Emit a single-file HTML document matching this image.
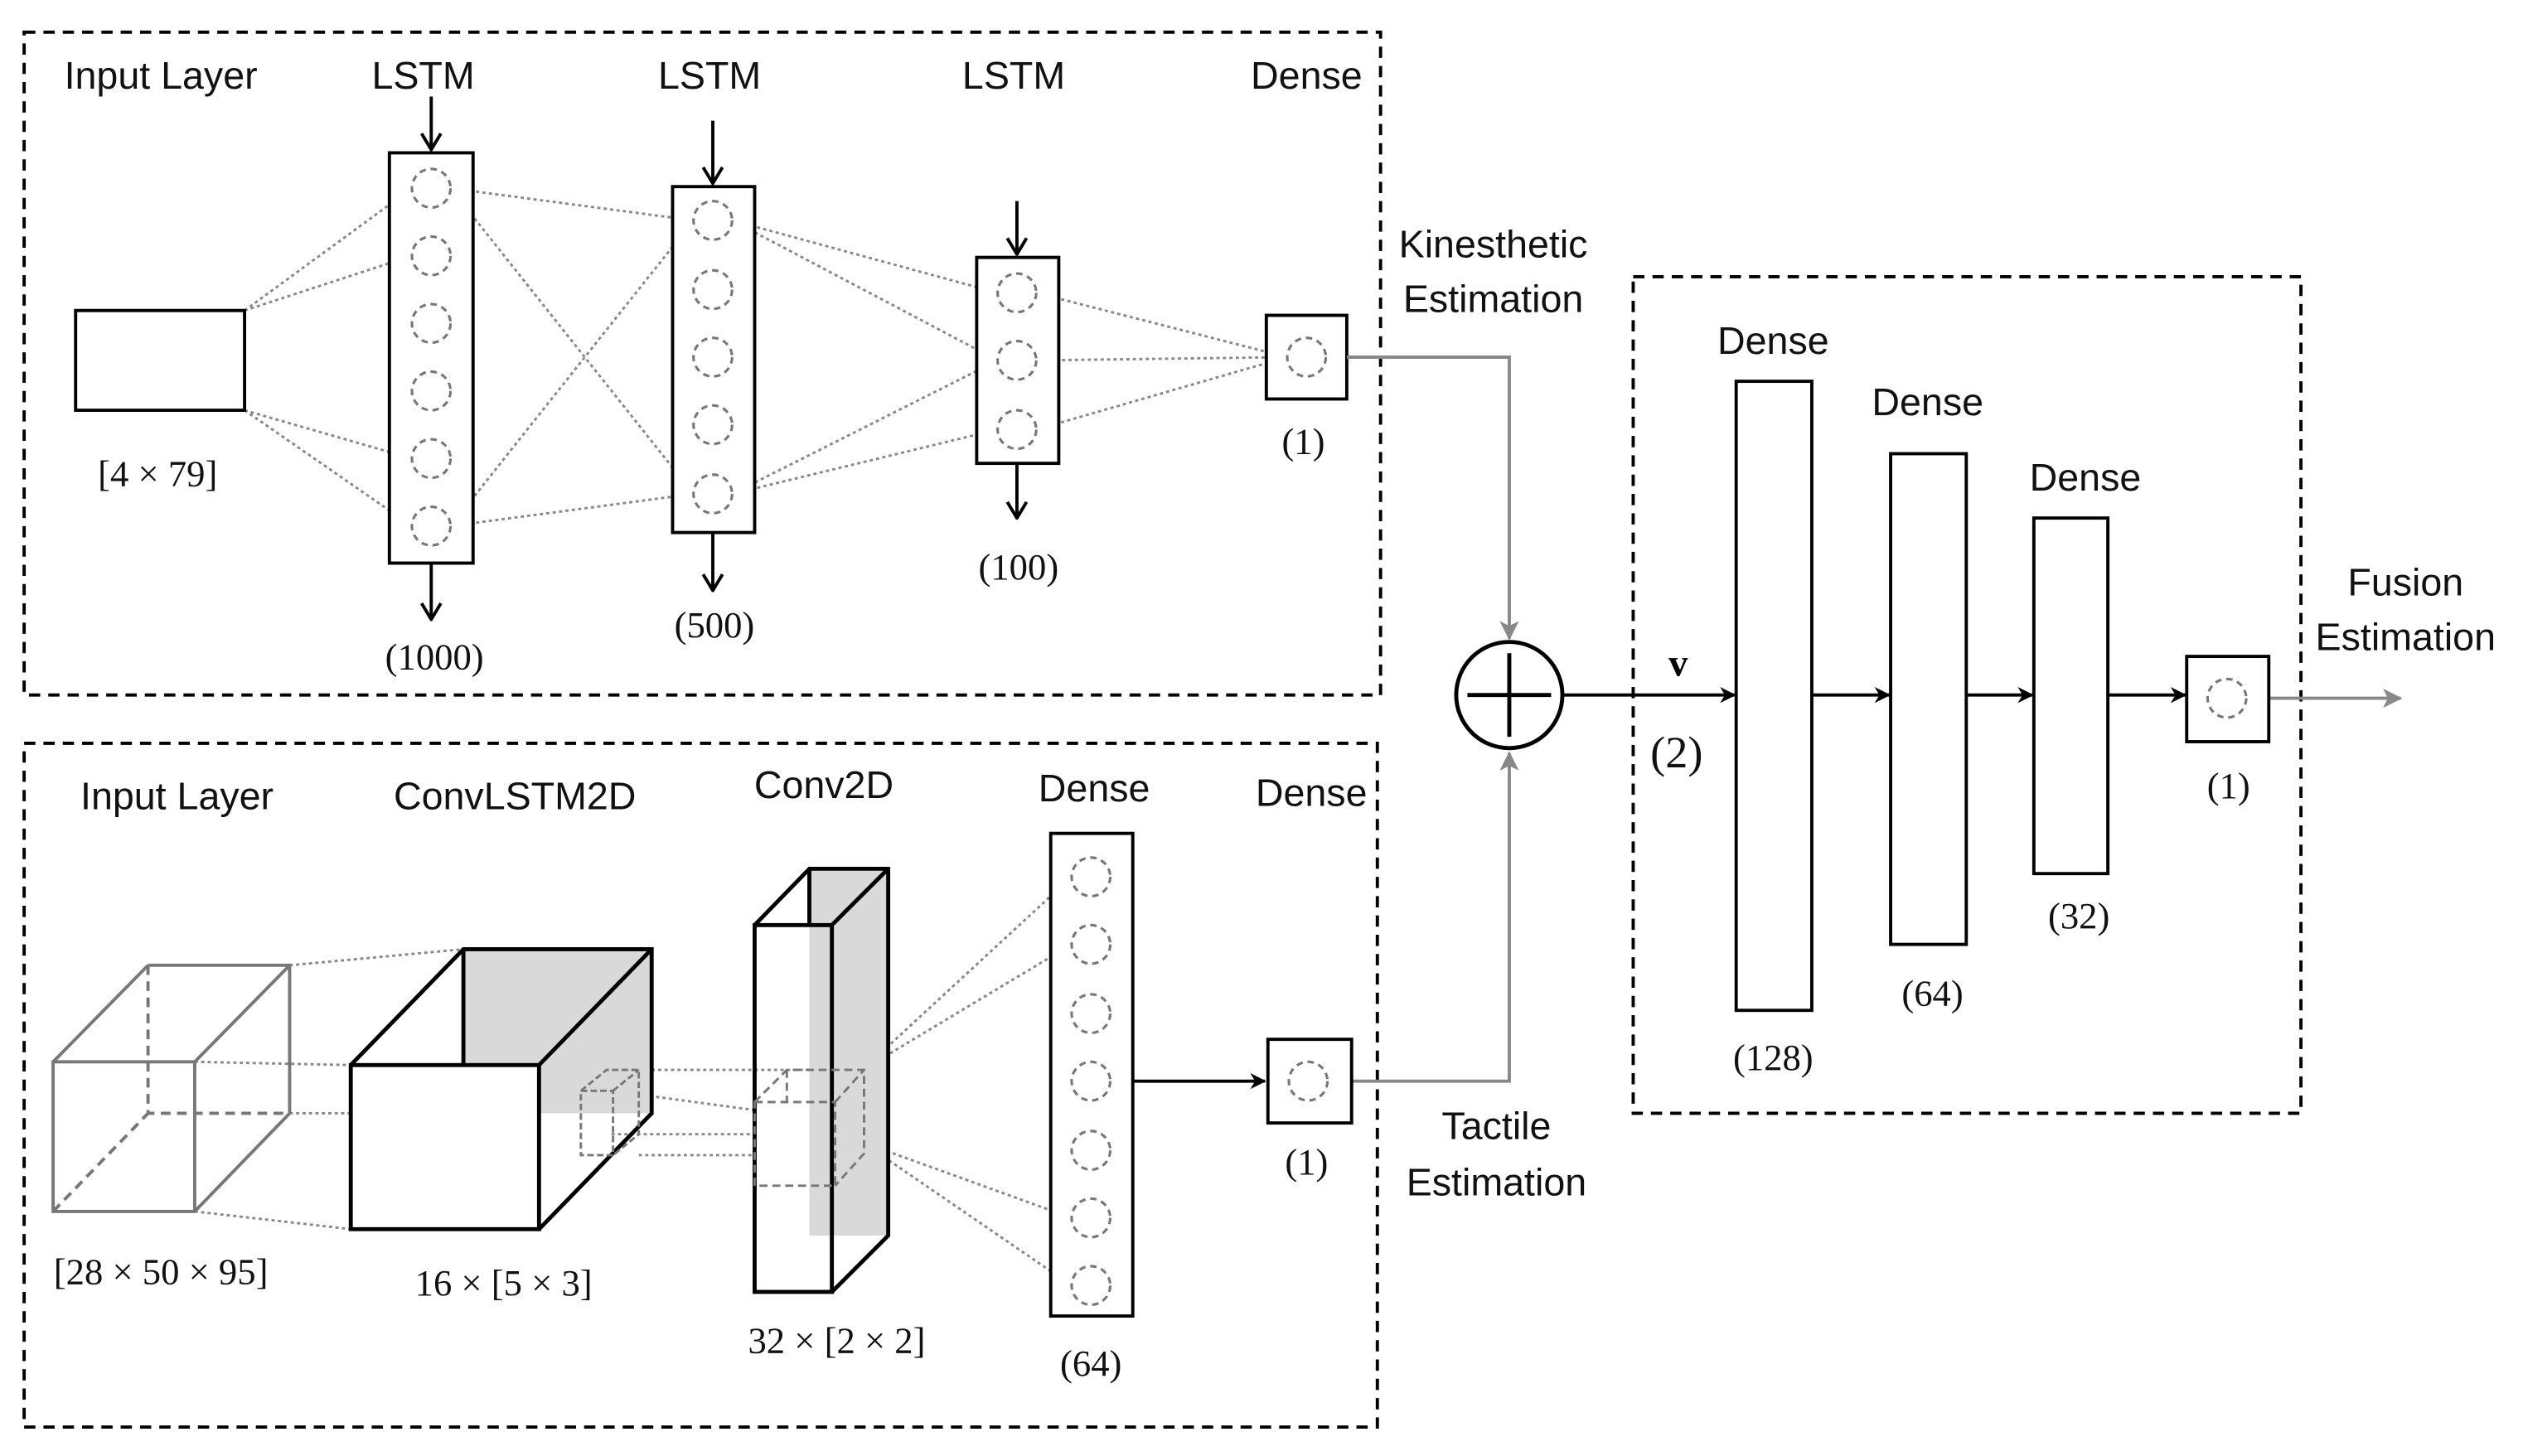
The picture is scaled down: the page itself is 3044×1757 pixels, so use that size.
<!DOCTYPE html>
<html><head><meta charset="utf-8"><style>
html,body{margin:0;padding:0;background:#fff}
svg{display:block}
.s{font-family:"Liberation Sans","DejaVu Sans",sans-serif;font-size:24px;fill:#111;text-anchor:middle}
.r{font-family:"Liberation Serif",serif;font-size:23px;fill:#111;text-anchor:middle}
</style></head><body>
<svg width="3044" height="1757" viewBox="0 0 1568 905" preserveAspectRatio="none" xmlns="http://www.w3.org/2000/svg">
<defs>
<marker id="ab" markerWidth="10" markerHeight="10" refX="9" refY="5" orient="auto" markerUnits="userSpaceOnUse"><path d="M0,0 L10,5 L0,10 L3,5 z" fill="#000"/></marker>
<marker id="ag" markerWidth="12" markerHeight="12" refX="11" refY="6" orient="auto" markerUnits="userSpaceOnUse"><path d="M0,0 L12,6 L0,12 L3,6 z" fill="#888"/></marker>
<marker id="ao" markerWidth="14" markerHeight="14" refX="13" refY="7" orient="auto" markerUnits="userSpaceOnUse"><path d="M3,1 L13,7 L3,13" fill="none" stroke="#000" stroke-width="2"/></marker>
</defs>
<g fill="none" stroke="#000" stroke-width="2" stroke-dasharray="7,5">
<rect x="15" y="20" width="843" height="412"/>
<rect x="15" y="462" width="841" height="425"/>
<rect x="1015" y="172" width="415" height="520"/>
</g>
<g stroke="#888" stroke-width="1.5" stroke-dasharray="2,2" fill="none">
<path d="M152,193 L256,117 M152,193 L256,159 M152,255 L256,285 M152,255 L256,327"/>
<path d="M280,117 L431,137 M280,117 L431,307 M280,327 L431,137 M280,327 L431,307"/>
<path d="M455,137 L620,182 M455,137 L620,224 M455,307 L620,224 M455,307 L620,267"/>
<path d="M644,182 L800,222 M644,224 L800,222 M644,267 L800,222"/>
</g>
<g fill="#fff" stroke="#000" stroke-width="2">
<rect x="47" y="193" width="105" height="62"/>
<rect x="242" y="95" width="52" height="255"/>
<rect x="418" y="116" width="51" height="215"/>
<rect x="607" y="160" width="51" height="128"/>
<rect x="787" y="196" width="50" height="52"/>
</g>
<g fill="none" stroke="#777" stroke-width="1.6" stroke-dasharray="4,3">
<circle cx="268" cy="117" r="12"/><circle cx="268" cy="159" r="12"/><circle cx="268" cy="201" r="12"/><circle cx="268" cy="243" r="12"/><circle cx="268" cy="285" r="12"/><circle cx="268" cy="327" r="12"/>
<circle cx="443" cy="137" r="12"/><circle cx="443" cy="180" r="12"/><circle cx="443" cy="222" r="12"/><circle cx="443" cy="264" r="12"/><circle cx="443" cy="307" r="12"/>
<circle cx="632" cy="182" r="12"/><circle cx="632" cy="224" r="12"/><circle cx="632" cy="267" r="12"/>
<circle cx="812" cy="222" r="12"/>
</g>
<g stroke="#000" stroke-width="2" marker-end="url(#ao)">
<line x1="268" y1="60" x2="268" y2="93"/><line x1="268" y1="350" x2="268" y2="385"/>
<line x1="443" y1="75" x2="443" y2="114"/><line x1="443" y1="331" x2="443" y2="367"/>
<line x1="632" y1="125" x2="632" y2="158"/><line x1="632" y1="288" x2="632" y2="322"/>
</g>
<text class="s" x="100" y="55">Input Layer</text>
<text class="s" x="263" y="55">LSTM</text>
<text class="s" x="441" y="55">LSTM</text>
<text class="s" x="630" y="55">LSTM</text>
<text class="s" x="812" y="55">Dense</text>
<text class="r" x="98" y="302">[4 × 79]</text>
<text class="r" x="270" y="416">(1000)</text>
<text class="r" x="444" y="396">(500)</text>
<text class="r" x="633" y="360">(100)</text>
<text class="r" x="810" y="282">(1)</text>
<text class="s" x="928" y="160">Kinesthetic</text>
<text class="s" x="928" y="194">Estimation</text>
<g stroke="#888" stroke-width="2" fill="none">
<path d="M837,222 L938,222 L938,397" marker-end="url(#ag)"/>
<path d="M840,672 L938,672 L938,468" marker-end="url(#ag)"/>
<line x1="1410" y1="434" x2="1492" y2="434" marker-end="url(#ag)"/>
</g>
<circle cx="938" cy="432" r="33" fill="#fff" stroke="#000" stroke-width="2.5"/>
<path d="M912,432 H964 M938,406 V458" stroke="#000" stroke-width="2.5"/>
<g stroke="#000" stroke-width="2" marker-end="url(#ab)">
<line x1="971" y1="432" x2="1078" y2="432"/>
<line x1="1126" y1="432" x2="1174" y2="432"/>
<line x1="1222" y1="432" x2="1263" y2="432"/>
<line x1="1310" y1="432" x2="1358" y2="432"/>
<line x1="704" y1="672" x2="786" y2="672"/>
</g>
<text class="s" x="930" y="708">Tactile</text>
<text class="s" x="930" y="743">Estimation</text>
<text x="1043" y="420" style="font-family:'Liberation Serif',serif;font-weight:bold;font-size:24px;text-anchor:middle">v</text>
<text class="r" x="1042" y="477" style="font-size:28px">(2)</text>
<g fill="#fff" stroke="#000" stroke-width="2">
<rect x="1079" y="237" width="47" height="391"/>
<rect x="1175" y="282" width="47" height="305"/>
<rect x="1264" y="322" width="46" height="221"/>
<rect x="1359" y="408" width="51" height="53"/>
</g>
<g fill="none" stroke="#777" stroke-width="1.6" stroke-dasharray="4,3"><circle cx="1384" cy="434" r="12"/></g>
<text class="s" x="1102" y="220">Dense</text>
<text class="s" x="1198" y="258">Dense</text>
<text class="s" x="1296" y="305">Dense</text>
<text class="r" x="1102" y="665">(128)</text>
<text class="r" x="1201" y="625">(64)</text>
<text class="r" x="1292" y="577">(32)</text>
<text class="r" x="1385" y="496">(1)</text>
<text class="s" x="1495" y="370">Fusion</text>
<text class="s" x="1495" y="404">Estimation</text>
<text class="s" x="110" y="503">Input Layer</text>
<text class="s" x="320" y="503">ConvLSTM2D</text>
<text class="s" x="512" y="496">Conv2D</text>
<text class="s" x="680" y="498">Dense</text>
<text class="s" x="815" y="501">Dense</text>
<g stroke="#888" stroke-width="1.5" stroke-dasharray="2,2" fill="none">
<path d="M180,600 L288,590 M121,660 L218,662 M180,692 L288,692 M121,753 L218,764"/>
<path d="M397,665 L503,665 M397,718 L469,718 M380,678 L469,690 M380,705 L469,705"/>
<path d="M536,665 L666,545 M536,665 L666,587 M536,710 L666,757 M536,710 L666,799"/>
</g>
<g stroke="#777" stroke-width="2" fill="none">
<rect x="33" y="660" width="88" height="93"/>
<path d="M92,600 H180 V692 M33,660 L92,600 M121,660 L180,600 M121,753 L180,692"/>
<path d="M92,600 V692 H180 M33,753 L92,692" stroke-dasharray="6,4"/>
</g>
<rect x="288" y="590" width="117" height="102" fill="#d9d9d9"/>
<g stroke="#000" stroke-width="2.5" fill="none">
<rect x="218" y="662" width="117" height="102" fill="#fff"/>
<path d="M218,662 L288,590 H405 V692 L335,764 M335,662 L405,590"/>
<path d="M288,590 V662"/>
</g>
<g stroke="#777" stroke-width="1.5" fill="none" stroke-dasharray="4,2">
<rect x="361" y="678" width="20" height="40"/>
<path d="M361,678 L377,665 H397 V705 L381,718 M381,678 L397,665"/>
</g>
<rect x="503" y="540" width="49" height="228" fill="#d9d9d9"/>
<g stroke="#000" stroke-width="2.5" fill="none">
<rect x="469" y="575" width="48" height="228"/>
<path d="M469,575 L503,540 H552 V768 L517,803 M517,575 L552,540 M503,540 V575"/>
</g>
<g stroke="#777" stroke-width="1.5" fill="none" stroke-dasharray="5,3">
<rect x="469" y="685" width="50" height="52"/>
<path d="M469,685 L489,665 H537 V717 L519,737 M519,685 L537,665 M489,665 V685"/>
</g>
<rect x="653" y="518" width="51" height="300" fill="#fff" stroke="#000" stroke-width="2"/>
<g fill="none" stroke="#777" stroke-width="1.6" stroke-dasharray="4,3">
<circle cx="678" cy="545" r="12"/><circle cx="678" cy="587" r="12"/><circle cx="678" cy="630" r="12"/><circle cx="678" cy="672" r="12"/><circle cx="678" cy="715" r="12"/><circle cx="678" cy="757" r="12"/><circle cx="678" cy="799" r="12"/>
</g>
<rect x="788" y="646" width="52" height="52" fill="none" stroke="#000" stroke-width="2"/>
<g fill="none" stroke="#777" stroke-width="1.6" stroke-dasharray="4,3"><circle cx="813" cy="672" r="12"/></g>
<text class="r" x="812" y="730">(1)</text>
<text class="r" x="678" y="855">(64)</text>
<text class="r" x="100" y="798">[28 × 50 × 95]</text>
<text class="r" x="313" y="805">16 × [5 × 3]</text>
<text class="r" x="520" y="841">32 × [2 × 2]</text>
</svg>
</body></html>
